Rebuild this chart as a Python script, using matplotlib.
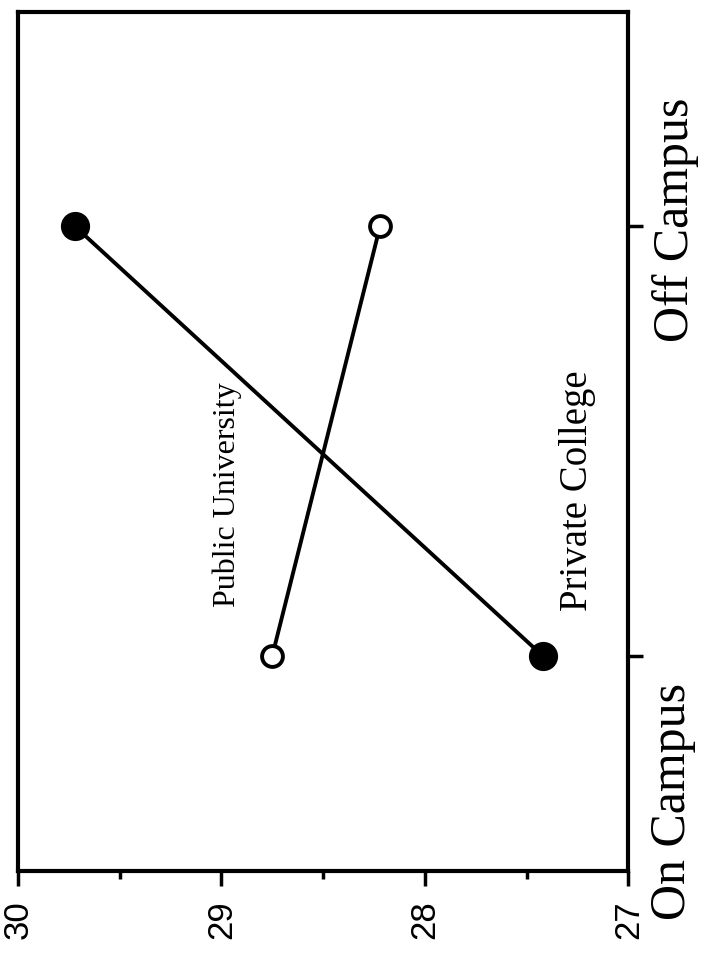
import matplotlib
matplotlib.use("Agg")
import matplotlib.pyplot as plt
from matplotlib.ticker import MultipleLocator
import matplotlib.transforms as mtransforms

# chart is printed sideways: value axis runs along the bottom, categories on the right
categories = ["On Campus", "Off Campus"]
private_college = [27.42, 29.72]   # filled dots
public_university = [28.75, 28.22]  # open dots
value_ticks = [30, 29, 28, 27]

fig = plt.figure(figsize=(7.18, 9.6), dpi=100)
ax = fig.add_axes([0.025, 0.093, 0.85, 0.895])

pos = list(range(len(categories)))
ax.plot(private_college, pos, color="black", lw=2.8, marker="o", ms=20,
        mfc="black", mec="black", zorder=3)
ax.plot(public_university, pos, color="black", lw=2.8, marker="o", ms=15,
        mfc="white", mec="black", mew=2.8, zorder=3)

ax.set_xlim(30, 27)
ax.set_ylim(-0.5, 1.5)

ax.set_xticks(value_ticks)
ax.set_xticklabels([str(v) for v in value_ticks], rotation=90,
                   family="Liberation Sans", fontsize=25)
ax.xaxis.set_minor_locator(MultipleLocator(0.5))
ax.tick_params(axis="x", which="major", length=11, width=2.5, pad=10)
ax.tick_params(axis="x", which="minor", length=6, width=2.5)

ax.yaxis.tick_right()
ax.set_yticks(pos)
ax.set_yticklabels(categories, rotation=90, family="Liberation Serif",
                   fontsize=36, va="center")
ax.tick_params(axis="y", length=11, width=2.5, pad=4)

# category labels sit a little off their ticks in the original
shifts = [(0, -105), (2, 5)]
for lab, (dx, dy) in zip(ax.get_yticklabels(), shifts):
    lab.set_transform(lab.get_transform() +
                      mtransforms.ScaledTranslation(dx / 72, dy / 72, fig.dpi_scale_trans))

for s in ax.spines.values():
    s.set_linewidth(3)

ax.text(28.97, 0.115, "Public University", rotation=90, ha="center", va="bottom",
        family="Liberation Serif", fontsize=23)
ax.text(27.25, 0.105, "Private College", rotation=90, ha="center", va="bottom",
        family="Liberation Serif", fontsize=28)

fig.savefig("out.png", dpi=100)
